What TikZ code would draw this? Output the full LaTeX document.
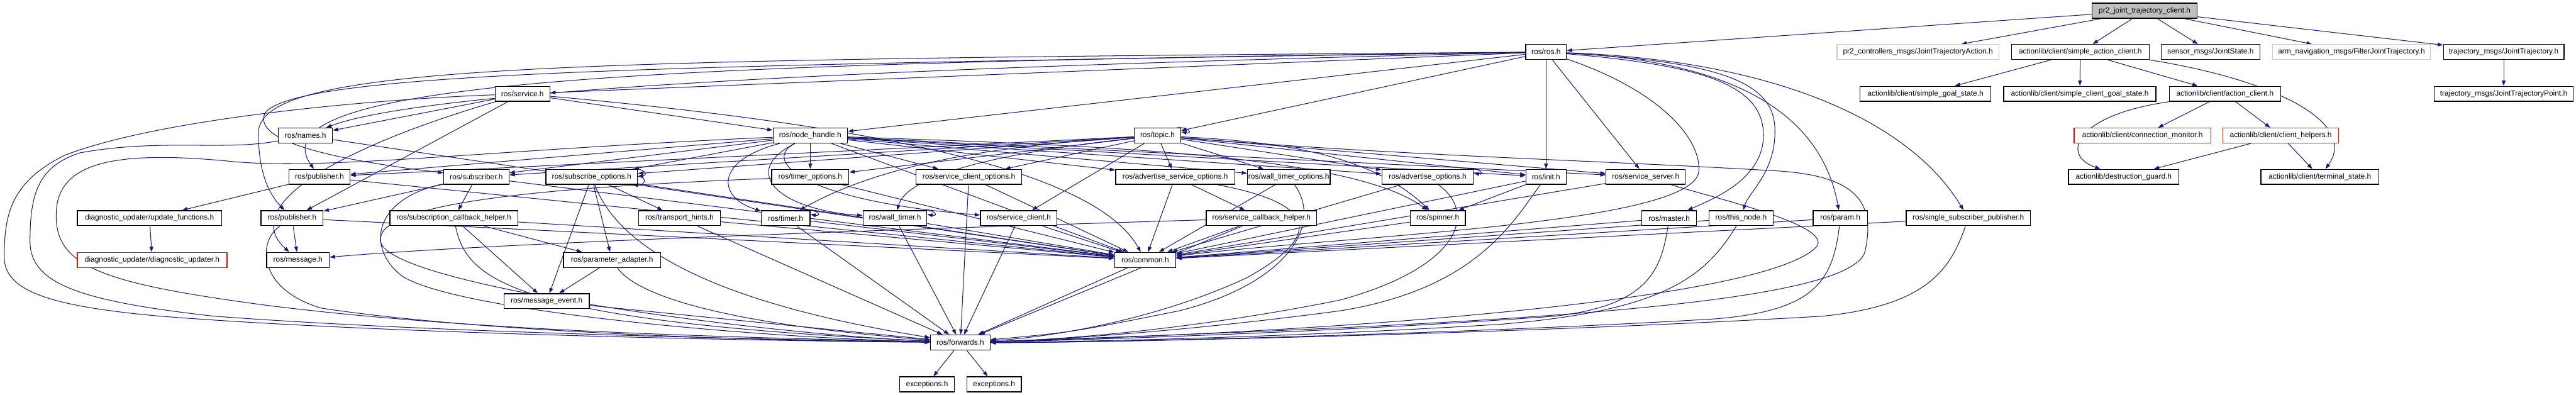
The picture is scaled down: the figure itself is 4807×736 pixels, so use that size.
\documentclass[tikz,border=0pt]{standalone}
\usepackage{fontspec}
\setmainfont{Liberation Sans}
\usetikzlibrary{arrows.meta}
\pgfdeclarelayer{bg}
\pgfsetlayers{bg,main}
\definecolor{edgecol}{HTML}{191970}
\definecolor{grayfill}{HTML}{BFBFBF}
\definecolor{lgray}{HTML}{C8C8C8}
\newcommand\nodefs{\fontsize{14}{16}\selectfont}
\tikzset{
  nbox/.style={draw=black, line width=1.5pt, fill=white, minimum height=28pt, inner sep=0pt, font=\nodefs, text=black},
  graybox/.style={nbox, draw=lgray},
  redbox/.style={nbox, draw=red},
  rootbox/.style={nbox, fill=grayfill},
  edg/.style={draw=edgecol, line width=1.2pt, -{Triangle[length=10pt,width=7pt]}},
}
\begin{document}
\begin{tikzpicture}[x=1pt,y=-1pt]
\useasboundingbox (0,0) rectangle (4807,736);
% row 1
\node[rootbox, minimum width=196pt] (pjtc) at (4002,20) {pr2\_joint\_trajectory\_client.h};
% row 2
\node[nbox, minimum width=76pt] (ros) at (2885,97) {ros/ros.h};
\node[graybox, minimum width=302pt] (pr2cm) at (3579,97) {pr2\_controllers\_msgs/JointTrajectoryAction.h};
\node[nbox, minimum width=257pt] (sac) at (3882,97) {actionlib/client/simple\_action\_client.h};
\node[nbox, minimum width=184pt] (sensor) at (4125,97) {sensor\_msgs/JointState.h};
\node[graybox, minimum width=294pt] (arm) at (4388,97) {arm\_navigation\_msgs/FilterJointTrajectory.h};
\node[nbox, minimum width=225pt] (traj) at (4672,97) {trajectory\_msgs/JointTrajectory.h};
% row 3
\node[nbox, minimum width=102pt] (service) at (975,175) {ros/service.h};
\node[nbox, minimum width=244pt] (sgs) at (3593,175) {actionlib/client/simple\_goal\_state.h};
\node[nbox, minimum width=284pt] (scgs) at (3881,175) {actionlib/client/simple\_client\_goal\_state.h};
\node[nbox, minimum width=208pt] (ac) at (4152,175) {actionlib/client/action\_client.h};
\node[nbox, minimum width=259pt] (trajp) at (4672,175) {trajectory\_msgs/JointTrajectoryPoint.h};
% row 4
\node[nbox, minimum width=101pt] (names) at (570,253) {ros/names.h};
\node[nbox, minimum width=139pt] (nh) at (1512,253) {ros/node\_handle.h};
\node[nbox, minimum width=87pt] (topic) at (2160,253) {ros/topic.h};
\node[redbox, minimum width=255pt] (cm) at (3998,253) {actionlib/client/connection\_monitor.h};
\node[redbox, minimum width=216pt] (ch) at (4256,253) {actionlib/client/client\_helpers.h};
% row 5
\node[nbox, minimum width=114pt] (pub1) at (596,330) {ros/publisher.h};
\node[nbox, minimum width=122pt] (sub) at (889,330) {ros/subscriber.h};
\node[nbox, minimum width=171pt] (subopt) at (1104,330) {ros/subscribe\_options.h};
\node[nbox, minimum width=144pt] (topt) at (1512,330) {ros/timer\_options.h};
\node[nbox, minimum width=197pt] (scopt) at (1808,330) {ros/service\_client\_options.h};
\node[nbox, minimum width=222pt] (asopt) at (2193,330) {ros/advertise\_service\_options.h};
\node[nbox, minimum width=154pt] (wtopt) at (2405,330) {ros/wall\_timer\_options.h};
\node[nbox, minimum width=171pt] (aopt) at (2664,330) {ros/advertise\_options.h};
\node[nbox, minimum width=75pt] (init) at (2885,330) {ros/init.h};
\node[nbox, minimum width=148pt] (ss) at (3071,330) {ros/service\_server.h};
\node[nbox, minimum width=206pt] (dg) at (3963,330) {actionlib/destruction\_guard.h};
\node[nbox, minimum width=220pt] (ts) at (4329,330) {actionlib/client/terminal\_state.h};
% row 6
\node[nbox, minimum width=269pt] (uf) at (279,407) {diagnostic\_updater/update\_functions.h};
\node[nbox, minimum width=116pt] (pub2) at (545,407) {ros/publisher.h};
\node[nbox, minimum width=239pt] (sch) at (847,407) {ros/subscription\_callback\_helper.h};
\node[nbox, minimum width=153pt] (th) at (1268,407) {ros/transport\_hints.h};
\node[nbox, minimum width=91pt] (timer) at (1466,407) {ros/timer.h};
\node[nbox, minimum width=119pt] (wt) at (1670,407) {ros/wall\_timer.h};
\node[nbox, minimum width=143pt] (sc) at (1901,407) {ros/service\_client.h};
\node[nbox, minimum width=206pt] (scbh) at (2354,407) {ros/service\_callback\_helper.h};
\node[nbox, minimum width=103pt] (spinner) at (2683,407) {ros/spinner.h};
\node[nbox, minimum width=102pt] (master) at (3115,407) {ros/master.h};
\node[nbox, minimum width=119pt] (thisnode) at (3249,407) {ros/this\_node.h};
\node[nbox, minimum width=101pt] (param) at (3434,407) {ros/param.h};
\node[nbox, minimum width=232pt] (ssp) at (3673,407) {ros/single\_subscriber\_publisher.h};
% row 7
\node[redbox, minimum width=279pt] (du) at (284,485) {diagnostic\_updater/diagnostic\_updater.h};
\node[nbox, minimum width=117pt] (msg) at (556,485) {ros/message.h};
\node[nbox, minimum width=181pt] (pa) at (1142,485) {ros/parameter\_adapter.h};
\node[nbox, minimum width=114pt] (common) at (2137,485) {ros/common.h};
% row 8
\node[nbox, minimum width=159pt] (me) at (1020,562) {ros/message\_event.h};
% row 9
\node[nbox, minimum width=111pt] (fwd) at (1792,639) {ros/forwards.h};
% row 10
\node[nbox, minimum width=102pt] (exc1) at (1730,717) {exceptions.h};
\node[nbox, minimum width=102pt] (exc2) at (1855,717) {exceptions.h};

\begin{pgfonlayer}{bg}
% top part
\draw[edg] (pjtc) -- (ros);
\draw[edg] (pjtc) -- (pr2cm);
\draw[edg] (pjtc) -- (sac);
\draw[edg] (pjtc) -- (sensor);
\draw[edg] (pjtc) -- (arm);
\draw[edg] (pjtc) -- (traj);
\draw[edg] (sac) -- (sgs);
\draw[edg] (sac) -- (scgs);
\draw[edg] (sac) -- (ac);
\draw[edg] (sac.south east) .. controls (4250,150) and (4400,230) .. (ts);
\draw[edg] (ac) .. controls (3870,215) and (3845,290) .. (dg);
\draw[edg] (ac) -- (cm);
\draw[edg] (ac) -- (ch);
\draw[edg] (ch) -- (dg);
\draw[edg] (ch) -- (ts);
\draw[edg] (traj) -- (trajp);
% ros/ros.h
\draw[edg] (ros) -- (service);
\draw[edg] (ros) -- (nh);
\draw[edg] (ros) -- (topic);
\draw[edg] (ros) -- (init);
\draw[edg] (ros) -- (ss);
\draw[edg] (ros) .. controls (1700,125) and (800,165) .. (names);
\draw[edg] (ros) .. controls (1200,118) and (470,150) .. (pub1);
\draw[edg] (ros) .. controls (1000,112) and (480,120) .. (482,250) .. controls (483,320) and (500,360) .. (pub2);
\draw[edg] (ros) .. controls (1200,122) and (560,135) .. (495,210) .. controls (470,260) and (600,295) .. (sub);
\draw[edg] (ros) .. controls (3100,170) and (3175,260) .. (3170,320) .. controls (3160,420) and (2500,440) .. (common);
\draw[edg] (ros) .. controls (3150,120) and (3280,150) .. (3290,240) .. controls (3300,330) and (3200,370) .. (master);
\draw[edg] (ros) .. controls (3200,115) and (3310,150) .. (3312,240) .. controls (3315,320) and (3262,360) .. (thisnode);
\draw[edg] (ros) .. controls (3250,115) and (3400,220) .. (param);
\draw[edg] (ros) .. controls (3300,112) and (3560,220) .. (ssp);
% service.h
\draw[edg] (service) -- (names);
\draw[edg] (service) -- (nh);
\draw[edg] (service) -- (pub2);
\draw[edg] (service) .. controls (1700,240) and (2050,330) .. (common);
\draw[edg] (service) .. controls (650,270) and (440,380) .. (msg);
\draw[edg] (service) .. controls (700,185) and (300,220) .. (120,290) .. controls (20,340) and (8,400) .. (8,480) .. controls (8,545) and (100,572) .. (300,590) .. controls (700,622) and (1400,636) .. (fwd);
% names.h
\draw[edg] (names) -- (common);
\draw[edg] (names) .. controls (420,282) and (300,258) .. (150,285) .. controls (72,310) and (56,360) .. (56,450) .. controls (56,530) and (150,562) .. (400,590) .. controls (800,620) and (1400,633) .. (fwd);
% node_handle.h
\draw[edg] (nh) -- (pub1);
\draw[edg] (nh) -- (sub);
\draw[edg] (nh) -- (subopt);
\draw[edg] (nh) -- (topt);
\draw[edg] (nh) -- (scopt);
\draw[edg] (nh) -- (asopt);
\draw[edg] (nh) -- (wtopt);
\draw[edg] (nh) -- (aopt);
\draw[edg] (nh) -- (init);
\draw[edg] (nh) -- (ss);
\draw[edg] (nh) -- (common);
\draw[edg] (nh) .. controls (1330,300) and (1340,370) .. (timer);
\draw[edg] (nh) .. controls (1380,320) and (1450,390) .. (wt);
\draw[edg] (nh) .. controls (1420,300) and (1500,375) .. (sc);
\draw[edg] (nh) .. controls (2000,270) and (2520,285) .. (spinner);
\draw[edg] (nh) .. controls (900,280) and (600,320) .. (420,300) .. controls (220,282) and (105,300) .. (105,400) .. controls (102,500) and (200,530) .. (500,570) .. controls (900,620) and (1400,630) .. (fwd);
% topic.h
\draw[edg] ([xshift=-8pt]topic.north east) .. controls +(22,-2) and +(22,4) .. ([yshift=7pt]topic.east);
\draw[edg] (topic) -- (pub1);
\draw[edg] (topic) -- (sub);
\draw[edg] (topic) -- (subopt);
\draw[edg] (topic) -- (topt);
\draw[edg] (topic) -- (scopt);
\draw[edg] (topic) -- (asopt);
\draw[edg] (topic) -- (wtopt);
\draw[edg] (topic) -- (aopt);
\draw[edg] (topic) -- (init);
\draw[edg] (topic) -- (ss);
\draw[edg] (topic) -- (sc);
\draw[edg] (topic) .. controls (1800,275) and (1620,320) .. (timer);
\draw[edg] (topic) .. controls (1820,290) and (1690,335) .. (wt);
\draw[edg] (topic) .. controls (2400,265) and (2560,290) .. (spinner);
\draw[edg] (topic) .. controls (2600,290) and (3000,300) .. (3300,318) .. controls (3470,325) and (3500,380) .. (3480,470) .. controls (3450,570) and (2800,605) .. (fwd);
% subscribe_options.h
\draw[edg] ([xshift=-10pt]subopt.north east) .. controls +(22,-2) and +(20,-2) .. ([yshift=1pt]subopt.east);
\draw[edg] ([yshift=1pt]subopt.east) .. controls +(20,2) and +(22,2) .. ([xshift=-10pt]subopt.south east);
\draw[edg] (subopt) -- (th);
\draw[edg] (subopt) -- (pa);
\draw[edg] (subopt) -- (me);
\draw[edg] (subopt) -- (common);
\draw[edg] (subopt) .. controls (1150,450) and (1300,560) .. (fwd);
% publisher / subscriber
\draw[edg] (pub1) -- (uf);
\draw[edg] (pub1) -- (common);
\draw[edg] (uf) -- (du);
\draw[edg] (pub2) -- (msg);
\draw[edg] (pub2) -- (common);
\draw[edg] (pub2) .. controls (480,450) and (480,540) .. (600,575) .. controls (900,620) and (1400,636) .. (fwd);
\draw[edg] (sub) -- (sch);
\draw[edg] (sub) -- (pub2);
\draw[edg] (sub) -- (common);
\draw[edg] (sub) .. controls (700,370) and (680,460) .. (750,515) .. controls (850,580) and (1400,630) .. (fwd);
% options
\draw[edg] (topt) -- (common);
\draw[edg] (topt) .. controls (1000,350) and (700,380) .. (710,450) .. controls (720,530) and (1400,622) .. (fwd);
\draw[edg] (scopt) -- (fwd);
\draw[edg] (scopt) -- (common);
\draw[edg] (asopt) -- (scbh);
\draw[edg] (asopt) -- (common);
\draw[edg] (asopt) .. controls (2460,380) and (2470,440) .. (2325,519) .. controls (2150,600) and (1950,630) .. (fwd);
\draw[edg] (wtopt) -- (common);
\draw[edg] (wtopt) .. controls (2470,420) and (2400,530) .. (2200,580) .. controls (2000,620) .. (fwd);
\draw[edg] ([xshift=-12pt]aopt.north east) .. controls +(22,-4) and +(22,4) .. ([yshift=7pt]aopt.east);
\draw[edg] (aopt) -- (common);
\draw[edg] (aopt) .. controls (2760,400) and (2720,500) .. (2500,560) .. controls (2200,620) and (1950,635) .. (fwd);
\draw[edg] (init) -- (spinner);
\draw[edg] (init) -- (common);
\draw[edg] (init) .. controls (2820,420) and (2750,540) .. (2500,580) .. controls (2200,620) and (1950,635) .. (fwd);
\draw[edg] (ss) -- (common);
\draw[edg] (ss) .. controls (3200,370) and (3420,420) .. (3390,460) .. controls (3300,560) and (2500,620) .. (fwd);
% row 6
\draw[edg] (sch) -- (pa);
\draw[edg] (sch) -- (me);
\draw[edg] (sch) -- (common);
\draw[edg] (sch) .. controls (870,520) and (950,600) .. (fwd);
\draw[edg] (th) -- (common);
\draw[edg] (th) -- (fwd);
\draw[edg] ([xshift=-8pt]timer.north east) .. controls +(22,-2) and +(22,4) .. ([yshift=7pt]timer.east);
\draw[edg] (timer) -- (common);
\draw[edg] (timer) -- (fwd);
\draw[edg] ([xshift=-8pt]wt.north east) .. controls +(22,-2) and +(22,4) .. ([yshift=7pt]wt.east);
\draw[edg] (wt) -- (common);
\draw[edg] (wt) -- (fwd);
\draw[edg] (sc) -- (common);
\draw[edg] (sc) -- (fwd);
\draw[edg] (scbh) -- (common);
\draw[edg] (scbh) -- (fwd);
\draw[edg] (scbh) .. controls (1600,430) and (900,455) .. (msg);
\draw[edg] (spinner) -- (common);
\draw[edg] (master) -- (common);
\draw[edg] (master) .. controls (3100,500) and (3080,570) .. (2900,590) .. controls (2500,620) and (2000,635) .. (fwd);
\draw[edg] (thisnode) -- (common);
\draw[edg] (thisnode) .. controls (3180,520) and (3100,580) .. (2800,605) .. controls (2400,630) and (2000,638) .. (fwd);
\draw[edg] (param) -- (common);
\draw[edg] (param) .. controls (3420,530) and (3380,580) .. (3200,595) .. controls (2700,625) and (2000,640) .. (fwd);
\draw[edg] (ssp) -- (common);
\draw[edg] (ssp) .. controls (3640,500) and (3600,570) .. (3400,590) .. controls (2800,625) and (2000,640) .. (fwd);
% lower
\draw[edg] (pa) -- (me);
\draw[edg] (pa) .. controls (1180,540) and (1300,600) .. (fwd);
\draw[edg] (me) -- (fwd);
\draw[edg] (common) -- (fwd);
\draw[edg] (fwd) -- (exc1);
\draw[edg] (fwd) -- (exc2);
\end{pgfonlayer}
\end{tikzpicture}
\end{document}
